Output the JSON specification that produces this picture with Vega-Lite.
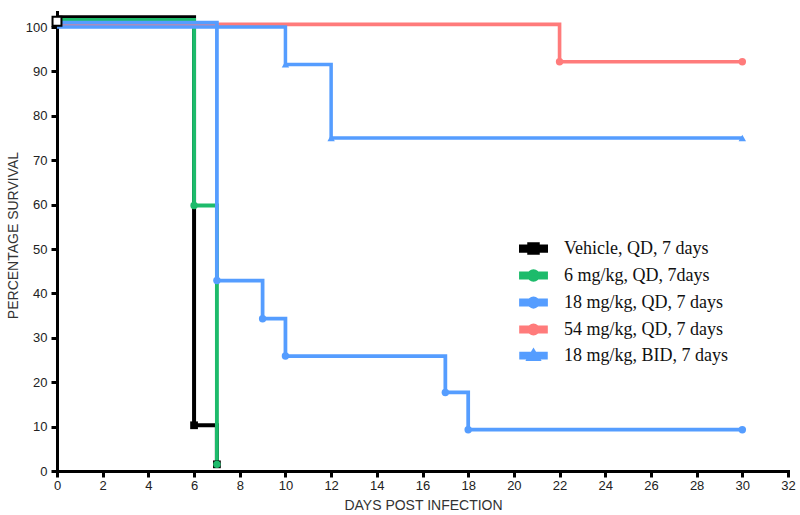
{
  "$schema": "https://vega.github.io/schema/vega-lite/v6.json",
  "autosize": {"type": "none"},
  "width": 731,
  "height": 459,
  "padding": {"left": 57, "top": 12, "right": 12, "bottom": 44},
  "background": "white",
  "config": {"view": {"stroke": null}},
  "datasets": {
    "steps": [
      {"series": "Vehicle, QD, 7 days", "day": 0, "pct": 102.2},
      {"series": "Vehicle, QD, 7 days", "day": 6, "pct": 10.3},
      {"series": "Vehicle, QD, 7 days", "day": 7, "pct": 1.5},
      {"series": "6 mg/kg, QD, 7days", "day": 0, "pct": 101.6},
      {"series": "6 mg/kg, QD, 7days", "day": 6, "pct": 59.8},
      {"series": "6 mg/kg, QD, 7days", "day": 7, "pct": 1.5},
      {"series": "54 mg/kg, QD, 7 days", "day": 0, "pct": 100.6},
      {"series": "54 mg/kg, QD, 7 days", "day": 22, "pct": 92.2},
      {"series": "54 mg/kg, QD, 7 days", "day": 30, "pct": 92.2},
      {"series": "18 mg/kg, QD, 7 days", "day": 0, "pct": 101.0},
      {"series": "18 mg/kg, QD, 7 days", "day": 7, "pct": 42.9},
      {"series": "18 mg/kg, QD, 7 days", "day": 9, "pct": 34.3},
      {"series": "18 mg/kg, QD, 7 days", "day": 10, "pct": 25.9},
      {"series": "18 mg/kg, QD, 7 days", "day": 17, "pct": 17.7},
      {"series": "18 mg/kg, QD, 7 days", "day": 18, "pct": 9.3},
      {"series": "18 mg/kg, QD, 7 days", "day": 30, "pct": 9.3},
      {"series": "18 mg/kg, BID, 7 days", "day": 0, "pct": 100.0},
      {"series": "18 mg/kg, BID, 7 days", "day": 10, "pct": 91.6},
      {"series": "18 mg/kg, BID, 7 days", "day": 12, "pct": 75.0},
      {"series": "18 mg/kg, BID, 7 days", "day": 30, "pct": 75.0}
    ],
    "marks": [
      {"series": "Vehicle, QD, 7 days", "day": 6, "pct": 10.3},
      {"series": "Vehicle, QD, 7 days", "day": 7, "pct": 1.5},
      {"series": "6 mg/kg, QD, 7days", "day": 6, "pct": 59.8},
      {"series": "6 mg/kg, QD, 7days", "day": 7, "pct": 1.5},
      {"series": "54 mg/kg, QD, 7 days", "day": 22, "pct": 92.2},
      {"series": "54 mg/kg, QD, 7 days", "day": 30, "pct": 92.2},
      {"series": "18 mg/kg, QD, 7 days", "day": 7, "pct": 42.9},
      {"series": "18 mg/kg, QD, 7 days", "day": 9, "pct": 34.3},
      {"series": "18 mg/kg, QD, 7 days", "day": 10, "pct": 25.9},
      {"series": "18 mg/kg, QD, 7 days", "day": 17, "pct": 17.7},
      {"series": "18 mg/kg, QD, 7 days", "day": 18, "pct": 9.3},
      {"series": "18 mg/kg, QD, 7 days", "day": 30, "pct": 9.3},
      {"series": "18 mg/kg, BID, 7 days", "day": 10, "pct": 91.6},
      {"series": "18 mg/kg, BID, 7 days", "day": 12, "pct": 75.0},
      {"series": "18 mg/kg, BID, 7 days", "day": 30, "pct": 75.0}
    ],
    "start": [
      {"series": "Vehicle, QD, 7 days", "day": 0, "pct": 101.3}
    ]
  },
  "encoding": {
    "x": {
      "field": "day", "type": "quantitative",
      "scale": {"domain": [0, 32], "nice": false, "zero": false},
      "axis": {
        "title": "DAYS POST INFECTION",
        "values": [0,2,4,6,8,10,12,14,16,18,20,22,24,26,28,30,32],
        "grid": false,
        "domainColor": "black", "domainWidth": 3, "domainCap": "square",
        "tickColor": "black", "tickWidth": 3, "tickSize": 6,
        "labelFont": "Liberation Sans Narrow, Liberation Sans", "labelFontSize": 13, "labelColor": "#222",
        "labelPadding": 2, "labelFlush": false,
        "titleFont": "Liberation Sans", "titleFontSize": 14, "titleFontWeight": "normal", "titleColor": "#333",
        "titleX": 366, "titleY": 34, "titleBaseline": "middle"
      }
    },
    "y": {
      "field": "pct", "type": "quantitative",
      "scale": {"domain": [0, 103.4], "nice": false, "zero": false},
      "axis": {
        "title": "PERCENTAGE SURVIVAL",
        "values": [0,10,20,30,40,50,60,70,80,90,100],
        "grid": false,
        "domainColor": "black", "domainWidth": 3, "domainCap": "square",
        "tickColor": "black", "tickWidth": 3, "tickSize": 6,
        "labelFont": "Liberation Sans Narrow, Liberation Sans", "labelFontSize": 13, "labelColor": "#222",
        "labelPadding": 4,
        "titleFont": "Liberation Sans", "titleFontSize": 14, "titleFontWeight": "normal", "titleColor": "#333",
        "titleX": -44, "titleY": 223, "titleBaseline": "middle", "titleAngle": -90, "titleAlign": "center"
      }
    }
  },
  "layer": [
    {
      "data": {"name": "steps"},
      "mark": {"type": "line", "interpolate": "step-after", "strokeCap": "butt", "strokeJoin": "miter"},
      "encoding": {
        "detail": {"field": "series"},
        "color": {
          "field": "series", "type": "nominal",
          "scale": {
            "domain": ["Vehicle, QD, 7 days", "6 mg/kg, QD, 7days", "18 mg/kg, QD, 7 days", "54 mg/kg, QD, 7 days", "18 mg/kg, BID, 7 days"],
            "range": ["#000000", "#1dbb6b", "#559dff", "#ff7b7b", "#559dff"]
          },
          "legend": {
            "title": null,
            "orient": "none", "legendX": 462, "legendY": 222,
            "symbolSize": 625, "symbolStrokeWidth": 0,
            "labelFont": "Liberation Serif", "labelFontSize": 18, "labelColor": "#111",
            "labelOffset": 16, "rowPadding": -3, "labelLimit": 400,
            "symbolType": "circle",
            "encode": {
              "symbols": {
                "update": {
                  "shape": {"signal": "datum.value === 'Vehicle, QD, 7 days' ? 'M-1,-0.17H1V0.17H-1Z M-0.34,-0.34H0.34V0.34H-0.34Z' : (datum.value === '18 mg/kg, BID, 7 days' ? 'M-1,-0.17H1V0.17H-1Z M0,-0.36L0.4,0.3L-0.4,0.3Z' : 'M-1,-0.17H1V0.17H-1Z M-0.34,0A0.34,0.34,0,1,1,0.34,0A0.34,0.34,0,1,1,-0.34,0Z')"},
                  "fill": {"signal": "scale('color', datum.value)"},
                  "stroke": {"value": "transparent"},
                  "opacity": {"value": 1}
                }
              }
            }
          }
        },
        "strokeWidth": {
          "field": "series", "type": "nominal",
          "scale": {
            "domain": ["Vehicle, QD, 7 days", "6 mg/kg, QD, 7days", "18 mg/kg, QD, 7 days", "54 mg/kg, QD, 7 days", "18 mg/kg, BID, 7 days"],
            "range": [4, 3.5, 3.5, 3, 3.5]
          },
          "legend": null
        }
      }
    },
    {
      "data": {"name": "marks"},
      "transform": [{"filter": "datum.series === 'Vehicle, QD, 7 days'"}],
      "mark": {"type": "point", "shape": "square", "filled": true, "opacity": 1, "size": 60},
      "encoding": {
        "color": {"field": "series", "type": "nominal", "legend": null}
      }
    },
    {
      "data": {"name": "marks"},
      "transform": [{"filter": "datum.series !== 'Vehicle, QD, 7 days' && datum.series !== '18 mg/kg, BID, 7 days'"}],
      "mark": {"type": "point", "shape": "circle", "filled": true, "opacity": 1, "size": 55},
      "encoding": {
        "color": {"field": "series", "type": "nominal", "legend": null}
      }
    },
    {
      "data": {"name": "marks"},
      "transform": [{"filter": "datum.series === '18 mg/kg, BID, 7 days'"}],
      "mark": {"type": "point", "shape": "triangle-up", "filled": true, "opacity": 1, "size": 55},
      "encoding": {
        "color": {"field": "series", "type": "nominal", "legend": null}
      }
    },
    {
      "data": {"name": "start"},
      "mark": {"type": "point", "shape": "square", "filled": false, "stroke": "black", "strokeWidth": 2, "fill": "white", "size": 80, "opacity": 1},
      "encoding": {}
    }
  ]
}
